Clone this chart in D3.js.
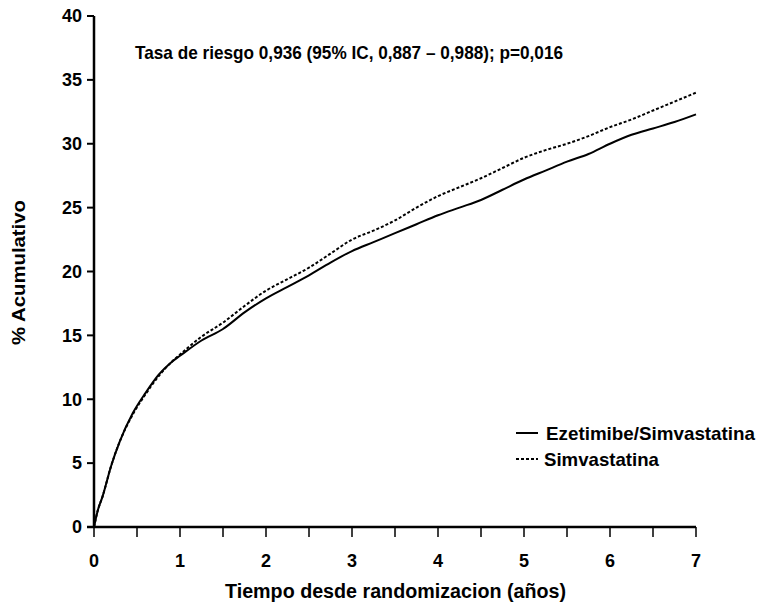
<!DOCTYPE html>
<html lang="es">
<head>
<meta charset="utf-8">
<script src="https://d3js.org/d3.v7.min.js"></script>
<style>
  body { margin: 0; background: #fff; }
  svg text { font-family: "Liberation Sans Narrow", "Arial Narrow", "Liberation Sans", Arial, sans-serif; font-weight: bold; fill: #000; }
</style>
</head>
<body>
<svg id="chart" width="761" height="609"></svg>
<script>
// time in years
const years = [0, 0.04, 0.1, 0.2, 0.3, 0.45, 0.6, 0.75, 0.9, 1.0, 1.25, 1.5, 1.75,
  2.0, 2.25, 2.5, 2.75, 3.0, 3.25, 3.5, 3.75, 4.0, 4.25, 4.5, 4.75,
  5.0, 5.25, 5.5, 5.75, 6.0, 6.25, 6.5, 6.75, 7.0];
// Ezetimibe/Simvastatina (solid)
const ezeSim = [0, 1.2, 2.4, 4.8, 6.7, 8.9, 10.5, 11.9, 12.9, 13.4, 14.6, 15.5, 16.8,
  17.9, 18.8, 19.7, 20.7, 21.6, 22.3, 23.0, 23.7, 24.4, 25.0, 25.6, 26.4,
  27.2, 27.9, 28.6, 29.2, 30.0, 30.7, 31.2, 31.7, 32.3];
// Simvastatina (dashed)
const sim = [0, 1.2, 2.4, 4.8, 6.7, 8.8, 10.4, 11.8, 12.9, 13.5, 14.9, 16.0, 17.3,
  18.5, 19.4, 20.3, 21.4, 22.5, 23.2, 24.0, 25.0, 25.9, 26.6, 27.3, 28.1,
  28.9, 29.5, 30.0, 30.6, 31.3, 31.9, 32.6, 33.3, 34.0];

const xTicks = [0, 1, 2, 3, 4, 5, 6, 7];
const xMinorTicks = d3.range(0, 7.01, 0.5);
const yTicks = [0, 5, 10, 15, 20, 25, 30, 35, 40];

const series = [
  { name: "Ezetimibe/Simvastatina", values: ezeSim, dash: null, len: 209 },
  { name: "Simvastatina", values: sim, dash: "3,2", len: 115 }
];

const svg = d3.select("#chart");
const x = d3.scaleLinear().domain([0, 7]).range([94, 696]);
const y = d3.scaleLinear().domain([0, 40]).range([527, 16]);

// x axis
const xAxis = svg.append("g").attr("transform", `translate(0,${y(0)})`);
xAxis.append("line")
  .attr("x1", x(0) - 7).attr("x2", x(7))
  .attr("stroke", "#000").attr("stroke-width", 2.5);
xAxis.selectAll(".tick")
  .data(xMinorTicks).enter().append("line")
  .attr("x1", d => x(d)).attr("x2", d => x(d))
  .attr("y1", 0).attr("y2", 10)
  .attr("stroke", "#000").attr("stroke-width", 1.5);
xAxis.selectAll(".lbl")
  .data(xTicks).enter().append("text")
  .attr("x", d => x(d)).attr("y", 40)
  .attr("text-anchor", "middle")
  .style("font-size", "18px")
  .text(d => d);

// y axis
const yAxis = svg.append("g").attr("transform", `translate(${x(0)},0)`);
yAxis.append("line")
  .attr("y1", y(40)).attr("y2", y(0))
  .attr("stroke", "#000").attr("stroke-width", 2.5);
yAxis.selectAll(".tick")
  .data(yTicks).enter().append("line")
  .attr("x1", -7).attr("x2", 0)
  .attr("y1", d => y(d)).attr("y2", d => y(d))
  .attr("stroke", "#000").attr("stroke-width", 2);
yAxis.selectAll(".lbl")
  .data(yTicks).enter().append("text")
  .attr("x", -12).attr("y", d => y(d))
  .attr("dy", "0.35em")
  .attr("text-anchor", "end")
  .style("font-size", "18px")
  .text(d => d);

// axis titles (condensed look via textLength)
svg.append("text")
  .attr("x", 225).attr("y", 598)
  .attr("textLength", 341).attr("lengthAdjust", "spacingAndGlyphs")
  .style("font-size", "20px")
  .text("Tiempo desde randomizacion (años)");
svg.append("text")
  .attr("transform", "translate(25,345) rotate(-90)")
  .attr("textLength", 145).attr("lengthAdjust", "spacingAndGlyphs")
  .style("font-size", "19px")
  .text("% Acumulativo");

// curves
const line = d3.line()
  .x((d, i) => x(years[i]))
  .y(d => y(d))
  .curve(d3.curveMonotoneX);

svg.selectAll(".curve")
  .data(series).enter().append("path")
  .attr("d", d => line(d.values))
  .attr("fill", "none")
  .attr("stroke", "#000")
  .attr("stroke-width", 2)
  .attr("stroke-dasharray", d => d.dash);

// annotation
svg.append("text")
  .attr("x", 135).attr("y", 59)
  .attr("textLength", 428).attr("lengthAdjust", "spacingAndGlyphs")
  .style("font-size", "19px")
  .text("Tasa de riesgo 0,936 (95% IC, 0,887 \u2013 0,988); p=0,016");

// legend
const leg = svg.append("g").selectAll("g")
  .data(series).enter().append("g")
  .attr("transform", (d, i) => `translate(516,${433 + i * 26})`);
leg.append("line")
  .attr("x1", 0).attr("x2", 22)
  .attr("stroke", "#000").attr("stroke-width", 2)
  .attr("stroke-dasharray", d => d.dash);
leg.append("text")
  .attr("x", d => d.dash ? 28 : 30).attr("dy", "0.36em")
  .attr("textLength", d => d.len).attr("lengthAdjust", "spacingAndGlyphs")
  .style("font-size", "19px")
  .text(d => d.name);
</script>
</body>
</html>
